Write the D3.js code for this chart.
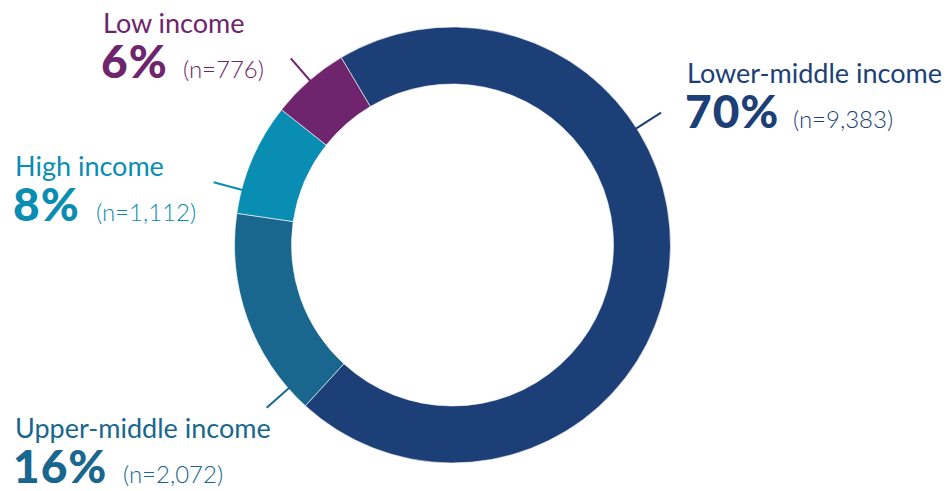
<!DOCTYPE html>
<html>
<head>
<meta charset="utf-8">
<script src="https://cdn.jsdelivr.net/npm/d3@7"></script>
<style>
  html, body { margin: 0; padding: 0; background: #ffffff; }
  svg { display: block; }
  text { font-family: Lato, "Open Sans", sans-serif; }
</style>
</head>
<body>
<svg id="chart" width="946" height="491"></svg>
<script>
// Income groups, respondent counts and displayed shares
const categories = ["Lower-middle income", "Upper-middle income", "High income", "Low income"];
const counts = [9383, 2072, 1112, 776];
const percentLabels = ["70%", "16%", "8%", "6%"];
const countLabels = ["(n=9,383)", "(n=2,072)", "(n=1,112)", "(n=776)"];
const colors = ["#1c3f77", "#19668f", "#0a8db2", "#6e256e"];

const width = 946, height = 491;
const cx = 452.5, cy = 245;
const outerR = 218, innerR = 161;
const startDeg = -30.7;

// Label placement (text anchor point and leader-line angle, degrees clockwise from 12 o'clock)
const labelLayout = {
  "Lower-middle income": { x: 687, y: 83, nx: 793, lineDeg: 57.6 },
  "Upper-middle income": { x: 15, y: 438, nx: 123, lineDeg: 228.8 },
  "High income":         { x: 15, y: 176, nx: 96, lineDeg: -75.3 },
  "Low income":          { x: 103, y: 33, nx: 183, lineDeg: -40.9 }
};

const data = categories.map((c, i) => ({
  name: c, value: counts[i], pct: percentLabels[i], n: countLabels[i], color: colors[i]
}));

const svg = d3.select("#chart");
const g = svg.append("g").attr("transform", `translate(${cx},${cy})`);

const pie = d3.pie()
  .sort(null)
  .value(d => d.value)
  .startAngle(startDeg * Math.PI / 180)
  .endAngle((startDeg + 360) * Math.PI / 180);

const arc = d3.arc().innerRadius(innerR).outerRadius(outerR);

g.selectAll("path.slice")
  .data(pie(data))
  .join("path")
  .attr("class", "slice")
  .attr("d", arc)
  .attr("fill", d => d.data.color)
  .attr("stroke", "#ffffff")
  .attr("stroke-width", 0.6);

// Leader lines
const lineR0 = 215, lineR1 = 247;
g.selectAll("line.leader")
  .data(data)
  .join("line")
  .attr("class", "leader")
  .each(function(d) {
    const a = labelLayout[d.name].lineDeg * Math.PI / 180;
    d3.select(this)
      .attr("x1", Math.sin(a) * lineR0).attr("y1", -Math.cos(a) * lineR0)
      .attr("x2", Math.sin(a) * lineR1).attr("y2", -Math.cos(a) * lineR1);
  })
  .attr("stroke", d => d.color)
  .attr("stroke-width", 2);

// Labels
const labels = svg.selectAll("g.label")
  .data(data)
  .join("g")
  .attr("class", "label")
  .attr("fill", d => d.color);

labels.append("text")
  .attr("x", d => labelLayout[d.name].x)
  .attr("y", d => labelLayout[d.name].y)
  .attr("font-size", 27)
  .text(d => d.name);

labels.append("text")
  .attr("x", d => labelLayout[d.name].x - 2)
  .attr("y", d => labelLayout[d.name].y + 45)
  .attr("font-size", 46)
  .attr("font-weight", 900)
  .attr("letter-spacing", 1)
  .text(d => d.pct);

labels.append("text")
  .attr("x", d => labelLayout[d.name].nx)
  .attr("y", d => labelLayout[d.name].y + 45)
  .attr("font-size", 24)
  .attr("font-weight", 300)
  .text(d => d.n);
</script>
</body>
</html>
